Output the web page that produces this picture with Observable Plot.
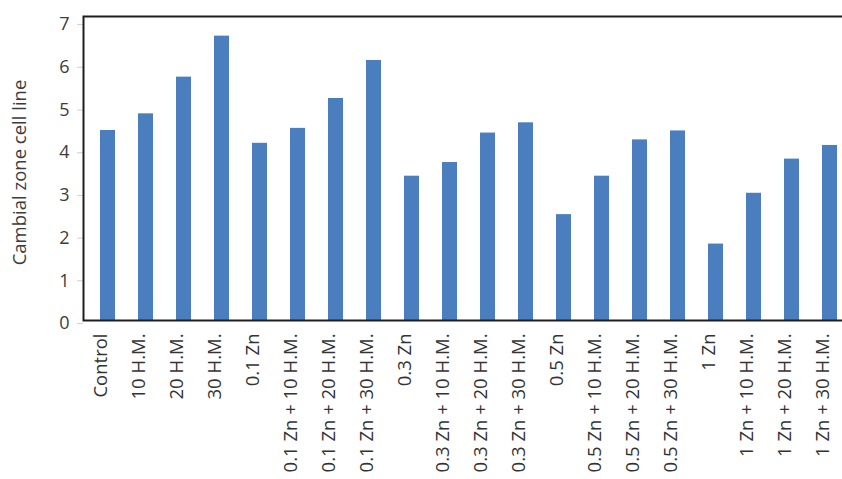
<!DOCTYPE html>
<html>
<head>
<meta charset="utf-8">
<script src="https://cdn.jsdelivr.net/npm/d3@7"></script>
<script src="https://cdn.jsdelivr.net/npm/@observablehq/plot@0.6"></script>
<style>
  html, body { margin: 0; padding: 0; background: #fff; }
  #chart { width: 842px; height: 479px; overflow: hidden; }
</style>
</head>
<body>
<div id="chart"></div>
<script>
const categories = [
  "Control", "10 H.M.", "20 H.M.", "30 H.M.",
  "0.1 Zn", "0.1 Zn + 10 H.M.", "0.1 Zn + 20 H.M.", "0.1 Zn + 30 H.M.",
  "0.3 Zn", "0.3 Zn + 10 H.M.", "0.3 Zn + 20 H.M.", "0.3 Zn + 30 H.M.",
  "0.5 Zn", "0.5 Zn + 10 H.M.", "0.5 Zn + 20 H.M.", "0.5 Zn + 30 H.M.",
  "1 Zn", "1 Zn + 10 H.M.", "1 Zn + 20 H.M.", "1 Zn + 30 H.M."
];
const values = [
  4.45, 4.84, 5.70, 6.66,
  4.15, 4.50, 5.20, 6.09,
  3.38, 3.70, 4.39, 4.63,
  2.48, 3.38, 4.23, 4.44,
  1.79, 2.98, 3.78, 4.10
];
const yTicks = [0, 1, 2, 3, 4, 5, 6, 7];
const yLabel = "Cambial zone cell line";

const data = categories.map((c, i) => ({category: c, value: values[i]}));
const font = "'Open Sans', sans-serif";

const chart = Plot.plot({
  width: 842,
  height: 479,
  marginLeft: 83,
  marginTop: 16,
  marginBottom: 159,
  marginRight: -4,
  style: {fontFamily: font, background: "#fff"},
  x: {domain: categories, range: [96.5, 840.1], paddingInner: 0.609, paddingOuter: 0, align: 0.5},
  y: {domain: [0, 7.12]},
  marks: [
    Plot.barY(data, {x: "category", y: "value", fill: "#4a7ebf"}),
    Plot.axisY({
      ticks: yTicks, tickSize: 6, tickPadding: 8, stroke: "#d9cfc4",
      fill: "#3c3c3c", fontSize: 18, label: null, dy: 3
    }),
    Plot.axisX({
      tickSize: 0, tickRotate: -90, tickPadding: 13, fontSize: 18.5,
      fill: "#333", label: null, dx: -7
    }),
    Plot.text([yLabel], {
      frameAnchor: "left", rotate: -90, dx: -63, dy: 4, textAnchor: "middle",
      fontSize: 18.5, fill: "#3c3c3c", fontFamily: font
    }),
    Plot.frame({stroke: "#1e1e1e", strokeWidth: 2})
  ]
});
document.getElementById("chart").appendChild(chart);
</script>
</body>
</html>
